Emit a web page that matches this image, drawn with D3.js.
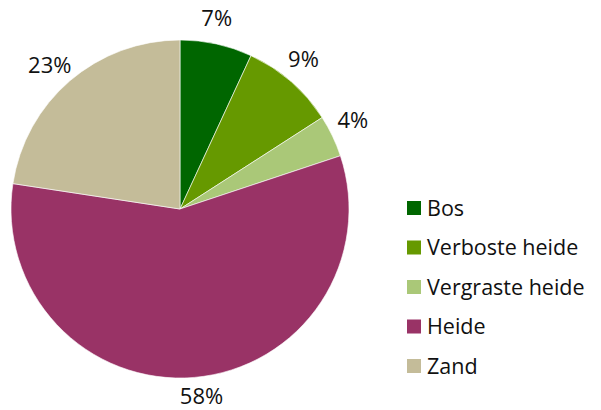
<!DOCTYPE html>
<html>
<head>
<meta charset="utf-8">
<script src="https://cdn.jsdelivr.net/npm/d3@7"></script>
<style>
  html, body { margin: 0; padding: 0; background: #fff; }
  svg { display: block; }
  text { font-family: "Open Sans", "Noto Sans", sans-serif; fill: #111; }
</style>
</head>
<body>
<svg id="chart" width="601" height="410"></svg>
<script>
const categories = ["Bos", "Verboste heide", "Vergraste heide", "Heide", "Zand"];
const values = [6.9, 9.0, 4.0, 57.5, 22.6];
const colors = ["#006600", "#669900", "#aac878", "#993366", "#c4bc99"];
const labels = ["7%", "9%", "4%", "58%", "23%"];

const W = 601, H = 410;
const svg = d3.select("#chart");
const cx = 180, cy = 209, r = 169;

const pie = d3.pie().sort(null).value(d => d.v);
const data = categories.map((c, i) => ({ c, v: values[i], col: colors[i], lab: labels[i] }));
const arcs = pie(data);

const g = svg.append("g").attr("transform", `translate(${cx},${cy})`);
const arc = d3.arc().innerRadius(0).outerRadius(r);

g.selectAll("path.slice").data(arcs).join("path")
  .attr("class", "slice")
  .attr("d", arc)
  .attr("fill", d => d.data.col)
  .attr("stroke", "#ffffff")
  .attr("stroke-width", 0.6);

const labelR = 194;
const angShift = -1.5 * Math.PI / 180;
const midA = d => (d.startAngle + d.endAngle) / 2 + angShift;
const fs = 22;
// keep labels fully inside the picture (baseline + descent within height)
const maxCenterY = H - cy - fs * 0.62;
g.selectAll("text.lab").data(arcs).join("text")
  .attr("class", "lab")
  .attr("x", d => labelR * Math.sin(midA(d)))
  .attr("y", d => Math.min(-labelR * Math.cos(midA(d)), maxCenterY))
  .attr("text-anchor", "middle")
  .attr("dy", "0.33em")
  .style("font-size", fs + "px")
  .text(d => d.data.lab);

// Legend
const legend = svg.append("g").attr("transform", "translate(407,208)");
const rowH = 39.5;
const items = legend.selectAll("g").data(data).join("g")
  .attr("transform", (d, i) => `translate(0,${i * rowH})`);
items.append("rect")
  .attr("x", 0).attr("y", -7)
  .attr("width", 14).attr("height", 14)
  .attr("fill", d => d.col);
items.append("text")
  .attr("x", 20).attr("y", 0)
  .attr("dy", "0.36em")
  .style("font-size", "21.5px")
  .text(d => d.c);
</script>
</body>
</html>
